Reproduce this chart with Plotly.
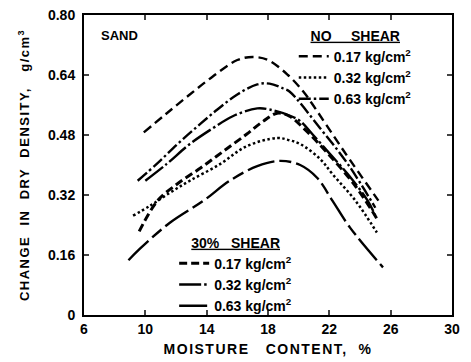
import plotly.graph_objects as go

NB = "\u00a0"

# Moisture content (%) and change in dry density (g/cm3)
ns017_x = [9.9, 11.4, 12.9, 14.4, 16.0, 17.0, 18.0, 19.3, 20.3, 20.9, 22.9, 25.2]
ns017_y = [0.487, 0.538, 0.588, 0.636, 0.680, 0.688, 0.680, 0.640, 0.596, 0.562, 0.440, 0.305]

ns032_x = [9.2, 10.3, 11.6, 12.9, 14.9, 16.6, 18.6, 19.4, 20.1, 21.4, 22.2, 23.7, 25.1]
ns032_y = [0.265, 0.291, 0.326, 0.358, 0.403, 0.450, 0.472, 0.466, 0.456, 0.416, 0.376, 0.305, 0.220]

ns063_x = [9.5, 10.8, 12.1, 13.4, 14.7, 16.0, 17.3, 18.1, 19.0, 19.4, 21.4, 23.2, 25.0]
ns063_y = [0.358, 0.405, 0.456, 0.503, 0.548, 0.588, 0.615, 0.617, 0.604, 0.596, 0.498, 0.403, 0.286]

s017_x = [9.6, 10.8, 12.1, 13.6, 15.1, 16.6, 17.7, 18.6, 19.4, 20.4, 22.05, 23.7, 25.1]
s017_y = [0.223, 0.305, 0.350, 0.392, 0.437, 0.482, 0.517, 0.538, 0.530, 0.495, 0.424, 0.344, 0.257]

s032_x = [10.0, 11.4, 12.9, 14.4, 15.7, 17.3, 18.1, 19.4, 20.1, 20.9, 22.05, 23.2, 24.5, 25.0]
s032_y = [0.358, 0.403, 0.456, 0.498, 0.530, 0.551, 0.548, 0.532, 0.517, 0.482, 0.429, 0.376, 0.305, 0.265]

s063_x = [8.9, 9.65, 11.6, 13.8, 15.5, 17.3, 18.8, 20.1, 21.2, 22.2, 23.35, 25.5]
s063_y = [0.146, 0.177, 0.246, 0.305, 0.358, 0.397, 0.411, 0.400, 0.366, 0.305, 0.233, 0.127]

x_ticks = [6, 10, 14, 18, 22, 26, 30]
y_ticks = [0, 0.16, 0.32, 0.48, 0.64, 0.80]
y_tick_labels = ["0", "0.16", "0.32", "0.48", "0.64", "0.80"]

FONT = "Liberation Sans, Arial, sans-serif"
unit = " kg/cm<sup>2</sup>"

series = [
    (ns017_x, ns017_y, "0.17" + unit, "9px,5px", 2.4, "legend"),
    (ns032_x, ns032_y, "0.32" + unit, "2.5px,2.5px", 2.5, "legend"),
    (ns063_x, ns063_y, "0.63" + unit, "12px,3px,2.5px,3px", 2.4, "legend"),
    (s017_x, s017_y, "0.17" + unit, "8px,4px", 3.0, "legend2"),
    (s032_x, s032_y, "0.32" + unit, "22px,3px,2.5px,3px", 2.4, "legend2"),
    (s063_x, s063_y, "0.63" + unit, "28px,5px,12px,5px", 2.4, "legend2"),
]

fig = go.Figure()
for xs, ys, name, dash, w, lg in series:
    fig.add_trace(go.Scatter(
        x=xs, y=ys, mode="lines", name=name, legend=lg,
        line=dict(color="black", width=w, dash=dash, shape="spline", smoothing=1.0),
    ))

fig.update_layout(
    width=471, height=362,
    margin=dict(l=76, r=27, t=7, b=55, autoexpand=False),
    paper_bgcolor="white", plot_bgcolor="white",
    font=dict(family=FONT, size=12, color="black"),
    showlegend=True,
    legend=dict(
        x=0.57, y=0.975, xanchor="left", yanchor="top",
        bgcolor="rgba(0,0,0,0)", borderwidth=0,
        font=dict(family=FONT, size=14, color="black", weight="bold"),
        title=dict(text="<u>NO" + NB * 5 + "SHEAR</u>", side="top center",
                   font=dict(family=FONT, size=14, color="black", weight="bold")),
        tracegroupgap=0, itemwidth=30,
    ),
    legend2=dict(
        x=0.245, y=0.285, xanchor="left", yanchor="top",
        bgcolor="rgba(0,0,0,0)", borderwidth=0,
        font=dict(family=FONT, size=14, color="black", weight="bold"),
        title=dict(text="<u>30%" + NB * 3 + "SHEAR</u>", side="top center",
                   font=dict(family=FONT, size=14, color="black", weight="bold")),
        tracegroupgap=0, itemwidth=30,
    ),
    annotations=[dict(
        text="SAND", xref="paper", yref="paper", x=0.04, y=0.93,
        xanchor="left", yanchor="middle", showarrow=False,
        font=dict(family=FONT, size=13, color="black", weight="bold"),
    )],
)

fig.update_xaxes(
    range=[6, 30], tickvals=x_ticks, ticks="inside", ticklen=5, tickwidth=1.5,
    showline=True, linewidth=2, linecolor="black", mirror="ticks",
    showgrid=False, zeroline=False, automargin=False, ticklabeloverflow="allow",
    tickfont=dict(family=FONT, size=14, color="black", weight="bold"),
    title=dict(text="<span style='letter-spacing:1.5px'>MOISTURE" + NB * 3 + "CONTENT," + NB * 2 + "%</span>",
               font=dict(family=FONT, size=14, color="black", weight="bold"), standoff=8),
)
fig.update_yaxes(
    range=[0, 0.80], tickvals=y_ticks, ticktext=y_tick_labels,
    ticks="inside", ticklen=5, tickwidth=1.5, ticklabelstandoff=4, ticklabeloverflow="allow",
    showline=True, linewidth=2, linecolor="black", mirror="ticks",
    showgrid=False, zeroline=False, automargin=False,
    tickfont=dict(family=FONT, size=14, color="black", weight="bold"),
    title=dict(text="<span style='letter-spacing:1.5px'>CHANGE" + NB * 2 + "IN" + NB * 2 + "DRY" + NB * 2 + "DENSITY," + NB * 3 + "g/cm<sup>3</sup></span>",
               font=dict(family=FONT, size=13, color="black", weight="bold"), standoff=15),
)

fig.write_html("out.html")
